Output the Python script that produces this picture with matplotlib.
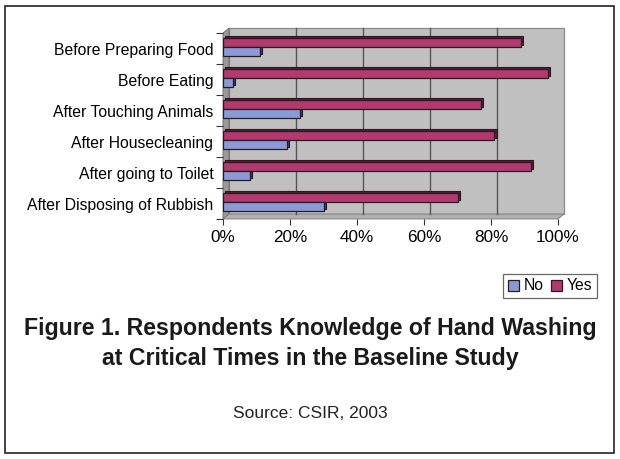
import numpy as np
import matplotlib
matplotlib.use("Agg")
import matplotlib.pyplot as plt
from matplotlib.patches import Rectangle, Polygon
from matplotlib.transforms import ScaledTranslation

plt.rcParams['font.family'] = ['Liberation Sans', 'DejaVu Sans']

categories = ['After Disposing of Rubbish', 'After going to Toilet', 'After Housecleaning',
              'After Touching Animals', 'Before Eating', 'Before Preparing Food']
no_vals = np.array([30, 8, 19, 23, 3, 11])
yes_vals = np.array([70, 92, 81, 77, 97, 89])
xticks = [0, 20, 40, 60, 80, 100]
xticklabels = ['0%', '20%', '40%', '60%', '80%', '100%']

YES_C = '#B23A6E'
NO_C = '#8A9AD6'
EDGE = '#2a1a22'
WALL = '#C0C0C0'

W, H = 620, 459
fig = plt.figure(figsize=(6.2, 4.59), dpi=100)
fig.patch.set_facecolor('white')

# outer frame
fig.patches.append(Rectangle((5 / W, 6 / H), 609 / W, 447 / H, transform=fig.transFigure,
                             fill=False, edgecolor='#222222', lw=1.2))

x0, x1, ytop, ybot = 223, 558, 33, 219
ax = fig.add_axes([x0 / W, 1 - ybot / H, (x1 - x0) / W, (ybot - ytop) / H])
ax.set_xlim(0, 100)
ax.set_ylim(-0.5, 5.5)
ax.set_facecolor('none')
for s in ax.spines.values():
    s.set_visible(False)

dpx, dpy = 6, 5  # 3d depth, pixels
off = ScaledTranslation(dpx / 100., dpy / 100., fig.dpi_scale_trans)

# back wall
ax.add_patch(Rectangle((0, 0), 1, 1, transform=ax.transAxes + off, facecolor=WALL,
                       edgecolor='#8a8a8a', lw=0.9, zorder=0, clip_on=False))
# side wall and floor
fw = dpx / (x1 - x0)
fh = dpy / (ybot - ytop)
ax.add_patch(Polygon([[0, 0], [0, 1], [fw, 1 + fh], [fw, fh]], closed=True,
                     transform=ax.transAxes, facecolor='#9a9a9a', edgecolor='#666666',
                     lw=0.6, zorder=0.5, clip_on=False))
ax.add_patch(Polygon([[0, 0], [1, 0], [1 + fw, fh], [fw, fh]], closed=True,
                     transform=ax.transAxes, facecolor='#b0b0b0', edgecolor='#777777',
                     lw=0.6, zorder=0.5, clip_on=False))

# grid on back wall
for xt in xticks[1:-1]:
    ax.plot([xt, xt], [-0.5, 5.5], transform=ax.transData + off, color='#555555',
            lw=1.0, zorder=0.6, clip_on=False)

y = np.arange(len(categories))
h = 0.29
ys = y + 0.19
yn = y - 0.11
boff = ScaledTranslation(2.2 / 100., 2.2 / 100., fig.dpi_scale_trans)
# dark depth faces
ax.barh(ys, yes_vals, height=h, color='#5a1a38', edgecolor=EDGE, lw=0.8,
        transform=ax.transData + boff, zorder=1)
ax.barh(yn, no_vals, height=h, color='#2e3a78', edgecolor=EDGE, lw=0.8,
        transform=ax.transData + boff, zorder=1)
ax.barh(ys, yes_vals, height=h, color=YES_C, edgecolor=EDGE, lw=0.9, zorder=2, label='Yes')
ax.barh(yn, no_vals, height=h, color=NO_C, edgecolor=EDGE, lw=0.9, zorder=2, label='No')

ax.set_yticks(y)
ax.set_yticklabels(categories, fontsize=11.3)
ax.set_yticks(np.arange(-0.5, 6.0, 1.0), minor=True)
ax.tick_params(axis='y', which='major', length=0, pad=7)
ax.tick_params(axis='y', which='minor', length=5, width=0.8, color='#333333')
ax.set_xticks(xticks)
ax.set_xticklabels(xticklabels, fontsize=12.3)
ax.tick_params(axis='x', length=4, width=0.8, color='#333333', pad=4)

handles, labels = ax.get_legend_handles_labels()
leg = fig.legend([handles[1], handles[0]], ['No', 'Yes'], loc='center',
                 bbox_to_anchor=(550 / W, 1 - 286 / H), ncol=2, fontsize=11.3,
                 frameon=True, fancybox=False, edgecolor='#444444', handlelength=0.7,
                 handleheight=0.7, handletextpad=0.3, columnspacing=0.5,
                 borderpad=0.3, borderaxespad=0)
leg.get_frame().set_linewidth(0.9)

fig.text(0.5, 1 - 329 / H, 'Figure 1. Respondents Knowledge of Hand Washing',
         ha='center', va='center', fontsize=16.7, fontweight='bold', color='#1a1a1a')
fig.text(0.5, 1 - 358 / H, 'at Critical Times in the Baseline Study',
         ha='center', va='center', fontsize=16.7, fontweight='bold', color='#1a1a1a')
fig.text(0.5, 1 - 413 / H, 'Source: CSIR, 2003', ha='center', va='center',
         fontsize=12.5, color='#222222')

fig.savefig('out.png', dpi=100)
